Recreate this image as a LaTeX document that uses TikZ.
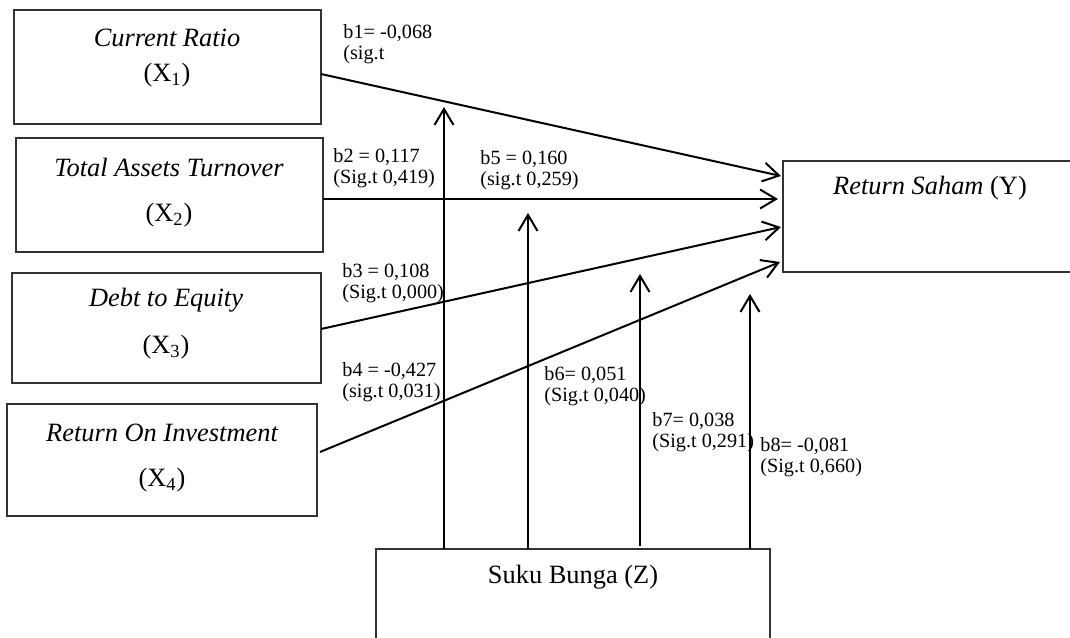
\documentclass[tikz,border=0pt]{standalone}
\usepackage{fontspec}
\setmainfont{Liberation Serif}
\usetikzlibrary{arrows.meta}
\tikzset{
  box/.style={draw=black!80, line width=0.7pt, rectangle, inner sep=0pt},
  main/.style={font=\fontsize{13.2}{15}\selectfont, inner sep=0pt},
  lbl/.style={font=\fontsize{10.1}{10.6}\selectfont, align=left, anchor=west, inner sep=0pt},
  arr/.style={line width=1pt, -{Straight Barb[length=8pt,width=9.5pt,line width=1pt]}},
}
\begin{document}
\begin{tikzpicture}[x=0.5pt,y=-0.5pt]
\useasboundingbox (0,0) rectangle (1070,637);
\clip (0,0) rectangle (1070,637);
% boxes
\node[box, minimum width=153.5pt, minimum height=57pt] (X1) at (167.5,67) {};
\node[box, minimum width=153.5pt, minimum height=57pt] (X2) at (169.5,195) {};
\node[box, minimum width=154.5pt, minimum height=55pt] (X3) at (166.5,328) {};
\node[box, minimum width=155pt, minimum height=56pt] (X4) at (162,460) {};
\node[box, minimum width=150pt, minimum height=55.5pt] (Y) at (933,216.5) {};
\node[box, minimum width=197pt, minimum height=60pt] (Z) at (573,609) {};
% texts
\node[main] (t1a) at (167,38) {\itshape Current Ratio};
\node[main] (t1b) at (167,75) {(X\textsubscript{1})};
\node[main] (t2a) at (169,167) {\itshape Total Assets Turnover};
\node[main] (t2b) at (169,215) {(X\textsubscript{2})};
\node[main] (t3a) at (166,300) {\itshape Debt to Equity};
\node[main] (t3b) at (166,347) {(X\textsubscript{3})};
\node[main] (t4a) at (162,433) {\itshape Return On Investment};
\node[main] (t4b) at (162,480) {(X\textsubscript{4})};
\node[main] (ty) at (930,188) {\textit{Return Saham} (Y)};
\node[main] (tz) at (573,577) {Suku Bunga (Z)};
% coordinates
\coordinate (s1) at (321,74);
\coordinate (e1) at (781,176);
\coordinate (s2) at (323,199);
\coordinate (e2) at (778,199);
\coordinate (s3) at (321,329);
\coordinate (e3) at (781,227);
\coordinate (s4) at (320,452);
\coordinate (e4) at (780,262);
\coordinate (z1) at (444,549);
\coordinate (z2) at (528,549);
\coordinate (z3) at (640,546);
\coordinate (z4) at (750,549);
\coordinate (v1) at (444,107);
\coordinate (v2) at (528,213);
\coordinate (v3) at (640,274);
\coordinate (v4) at (750,294);
% arrows
\draw[arr] (s1) -- (e1);
\draw[arr] (s2) -- (e2);
\draw[arr] (s3) -- (e3);
\draw[arr] (s4) -- (e4);
\draw[arr] (z1) -- (v1);
\draw[arr] (z2) -- (v2);
\draw[arr] (z3) -- (v3);
\draw[arr] (z4) -- (v4);
% labels
\node[lbl] (b1) at (343,44) {b1= -0,068\\(sig.t};
\node[lbl] (b2) at (333,168) {b2 = 0,117\\(Sig.t 0,419)};
\node[lbl] (b5) at (480,170) {b5 = 0,160\\(sig.t 0,259)};
\node[lbl] (b3) at (342,283) {b3 = 0,108\\(Sig.t 0,000)};
\node[lbl] (b4) at (342,382) {b4 = -0,427\\(sig.t 0,031)};
\node[lbl] (b6) at (544,386) {b6= 0,051\\(Sig.t 0,040)};
\node[lbl] (b7) at (652,432) {b7= 0,038\\(Sig.t 0,291)};
\node[lbl] (b8) at (760,457) {b8= -0,081\\(Sig.t 0,660)};
\end{tikzpicture}
\end{document}
